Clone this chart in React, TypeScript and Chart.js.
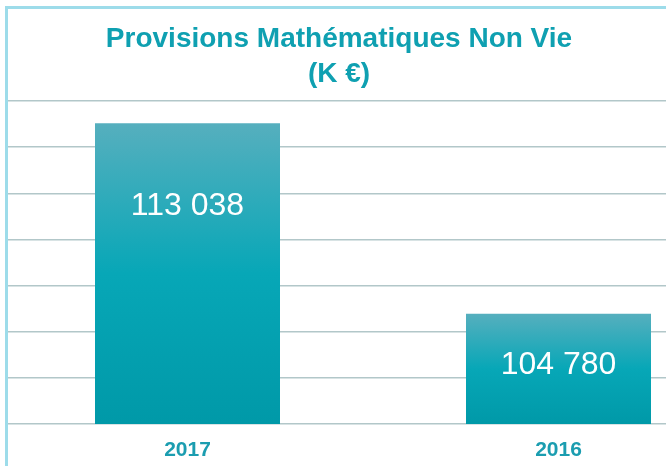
import React, { useEffect, useRef } from "react";
import { Chart, registerables } from "chart.js";

Chart.register(...registerables);

const categories = ["2017", "2016"];
const values = [113038, 104780];
const titleLines = ["Provisions Mathématiques Non Vie", "(K €)"];
const yMin = 100000;
const yMax = 114000;
const yStep = 2000;

const TEAL = "#0fa0b1";
// canvas is wider than the visible frame and offset left; it is clipped by its container
const CANVAS_LEFT = -6;
const CANVAS_W = 742;
const CANVAS_H = 457;

function fmt(v: number): string {
  return String(v).replace(/\B(?=(\d{3})+(?!\d))/g, " ");
}

export default function App() {
  const ref = useRef<HTMLCanvasElement | null>(null);

  useEffect(() => {
    if (!ref.current) return;

    const titlePlugin = {
      id: "customTitle",
      afterDraw(chart: any) {
        const ctx = chart.ctx;
        ctx.save();
        ctx.fillStyle = TEAL;
        ctx.font = "bold 28px 'Liberation Sans', Arial, sans-serif";
        ctx.textAlign = "center";
        ctx.textBaseline = "middle";
        const cx = 337;
        ctx.fillText(titleLines[0], cx, 30);
        ctx.fillText(titleLines[1], cx, 65);
        ctx.restore();
      },
    };

    const labelPlugin = {
      id: "barLabels",
      afterDatasetsDraw(chart: any) {
        const ctx = chart.ctx;
        const meta = chart.getDatasetMeta(0);
        const bottom = chart.chartArea.bottom;
        ctx.save();
        ctx.fillStyle = "#ffffff";
        ctx.font = "32px 'Liberation Sans', Arial, sans-serif";
        ctx.textAlign = "center";
        ctx.textBaseline = "middle";
        meta.data.forEach((bar: any, i: number) => {
          const h = bottom - bar.y;
          const y = bar.y + Math.min(83, h * 0.47);
          ctx.fillText(fmt(values[i]), bar.x, y);
        });
        ctx.restore();
      },
    };

    const chart = new Chart(ref.current, {
      type: "bar",
      data: {
        labels: categories,
        datasets: [
          {
            data: values,
            backgroundColor: (c: any) => {
              const chart = c.chart;
              const area = chart.chartArea;
              if (!area || !chart.scales.y) return "#05a5b5";
              const top = chart.scales.y.getPixelForValue(c.raw);
              const bottom = area.bottom;
              if (!isFinite(top) || bottom - top < 1) return "#05a5b5";
              const g = chart.ctx.createLinearGradient(0, top, 0, bottom);
              g.addColorStop(0, "#56afbe");
              g.addColorStop(0.5, "#07a7b7");
              g.addColorStop(1, "#0099a8");
              return g;
            },
            borderWidth: 0,
            barPercentage: 185 / 371,
            categoryPercentage: 1,
          },
        ],
      },
      options: {
        animation: false,
        responsive: false,
        maintainAspectRatio: false,
        layout: {
          padding: { left: 0, right: 0, top: 92, bottom: 0 },
        },
        plugins: {
          legend: { display: false },
          title: { display: false },
          tooltip: { enabled: false },
        },
        scales: {
          x: {
            grid: { display: false, drawTicks: false },
            border: { display: false },
            afterFit: (scale: any) => {
              scale.height = 42;
            },
            ticks: {
              padding: 14,
              color: "#1b9db0",
              maxRotation: 0,
              font: { family: "'Liberation Sans', Arial, sans-serif", size: 21, weight: "bold", lineHeight: 1.2 },
            },
          },
          y: {
            min: yMin,
            max: yMax,
            ticks: { display: false, stepSize: yStep },
            grid: { color: "#b2c7c9", lineWidth: 1.5, drawTicks: false },
            border: { display: false },
          },
        },
      },
      plugins: [titlePlugin, labelPlugin],
    });

    return () => chart.destroy();
  }, []);

  return (
    <div style={{ position: "fixed", left: 0, top: 0, width: 666, height: 466, background: "#fff", overflow: "hidden" }}>
      <div
        style={{
          position: "absolute",
          left: 5,
          top: 6,
          width: 661,
          height: 460,
          borderTop: "3px solid #9ddcea",
          borderLeft: "3px solid #9ddcea",
          boxSizing: "border-box",
        }}
      />
      <div style={{ position: "absolute", left: 8, top: 9, width: 658, height: 457, overflow: "hidden" }}>
        <canvas
          ref={ref}
          width={CANVAS_W}
          height={CANVAS_H}
          style={{ position: "absolute", left: CANVAS_LEFT, top: 0, width: CANVAS_W, height: CANVAS_H }}
        />
      </div>
    </div>
  );
}
